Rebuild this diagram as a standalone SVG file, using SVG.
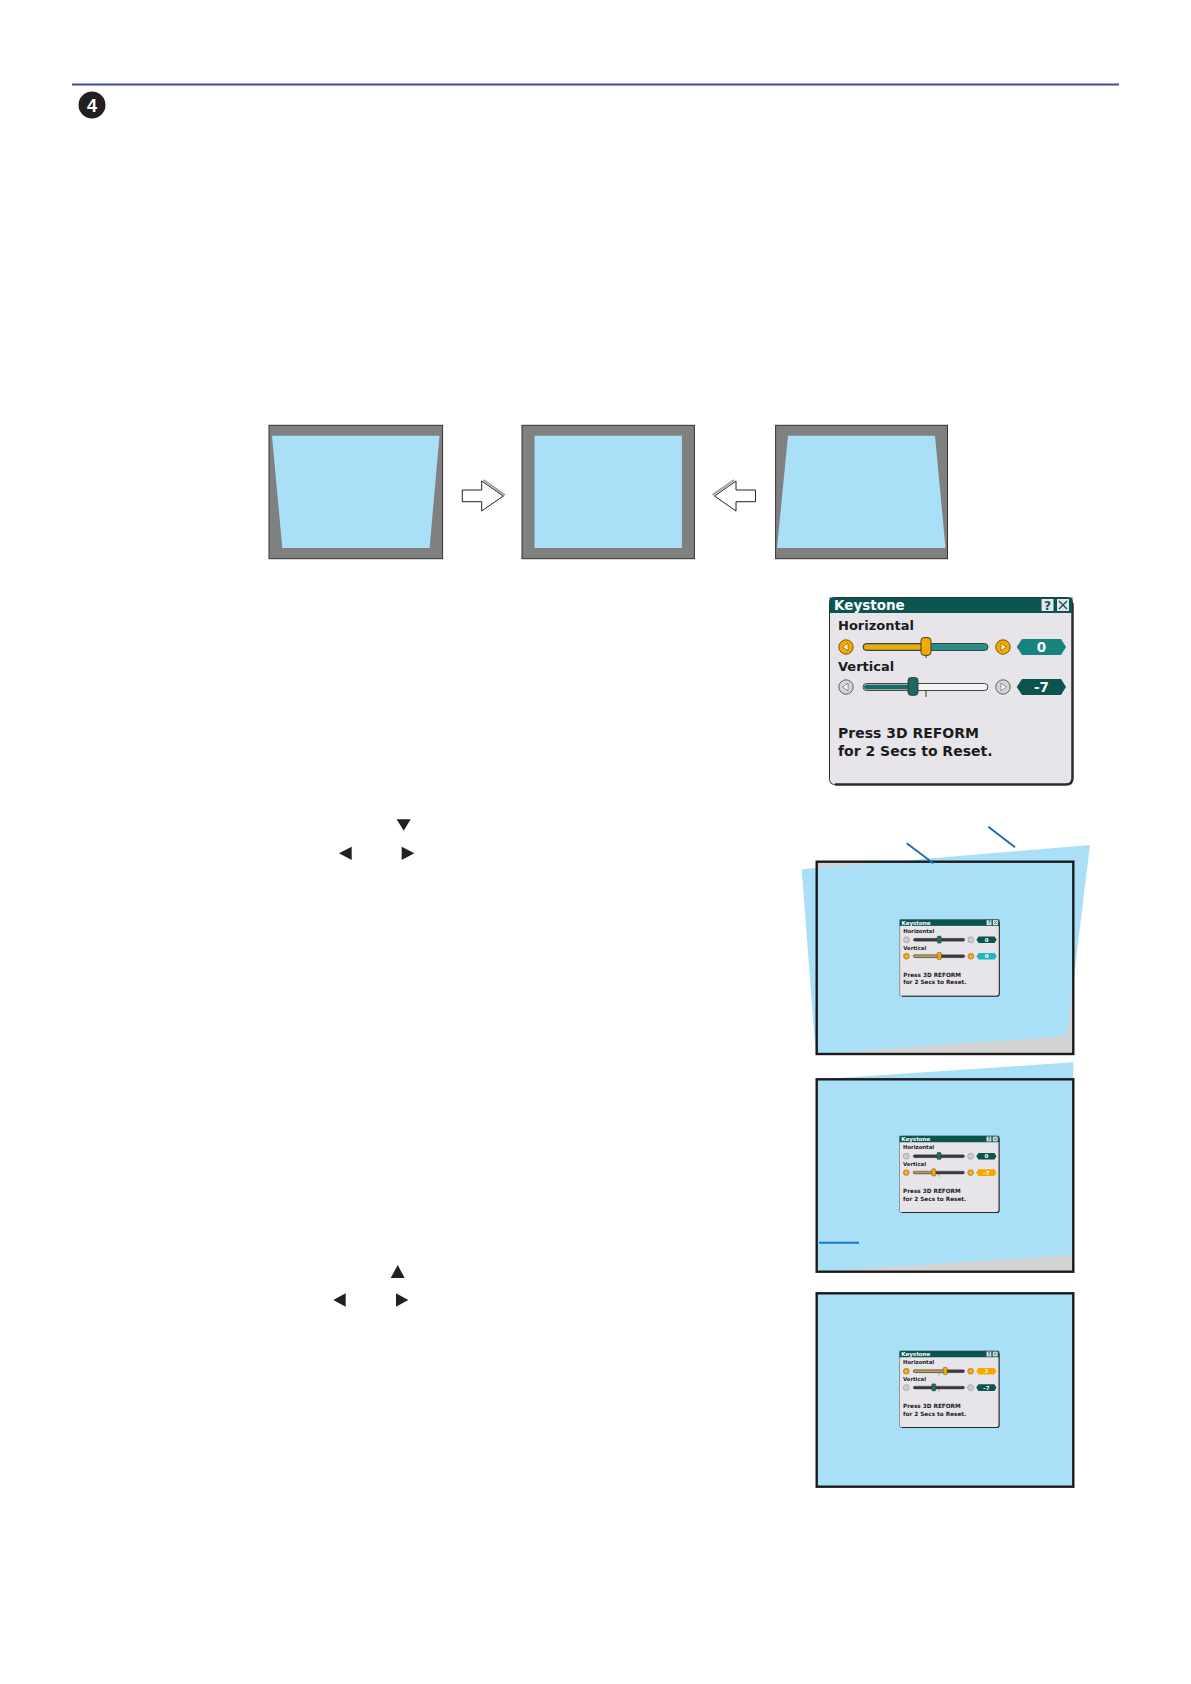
<svg xmlns="http://www.w3.org/2000/svg" xmlns:xlink="http://www.w3.org/1999/xlink" width="1191" height="1684" viewBox="0 0 1191 1684">
<style>
.dt{font-family:"DejaVu Sans",Verdana,sans-serif;font-weight:bold;fill:#1c1c1c}
.val{font-family:"DejaVu Sans",Verdana,sans-serif;font-weight:bold;font-size:13.5px;fill:#ffffff;text-anchor:middle}
.trk{stroke:#333;stroke-width:0.9}
.knob{stroke:#333;stroke-width:0.9}
.tick{stroke:#333;stroke-width:1}
.scr{fill:#808080;stroke:#333;stroke-width:1}
.blue{fill:#aadff8}
.tri{fill:#231f20}
.frame{fill:none;stroke:#1a1a1a;stroke-width:2.4}
.arrow{fill:#ffffff;stroke:#222;stroke-width:1}
.ashadow{fill:none;stroke:#a0a0a0;stroke-width:2}
.callout{stroke:#1c6bb5;stroke-width:2;fill:none}
</style>
<defs>
  <g id="bLo">
    <circle r="7.2" fill="#f5a800" stroke="#6e4a00" stroke-width="0.9"/>
    <path d="M-3.5,0 L2,-3.8 L2,3.8 Z" fill="#fff3c8" stroke="#6e4a00" stroke-width="0.6"/>
  </g>
  <g id="bRo">
    <circle r="7.2" fill="#f5a800" stroke="#6e4a00" stroke-width="0.9"/>
    <path d="M3.5,0 L-2,-3.8 L-2,3.8 Z" fill="#fff3c8" stroke="#6e4a00" stroke-width="0.6"/>
  </g>
  <g id="bLg">
    <circle r="7.2" fill="#d4d4d4" stroke="#555" stroke-width="0.9"/>
    <path d="M-3.5,0 L2,-3.8 L2,3.8 Z" fill="#ffffff" stroke="#555" stroke-width="0.6"/>
  </g>
  <g id="bRg">
    <circle r="7.2" fill="#d4d4d4" stroke="#555" stroke-width="0.9"/>
    <path d="M3.5,0 L-2,-3.8 L-2,3.8 Z" fill="#ffffff" stroke="#555" stroke-width="0.6"/>
  </g>
  <polygon id="hex" points="187.7,0 193,-8 232,-8 237,0 232,8 193,8"/>
  <g id="dlgBase">
    <rect x="0.5" y="0.5" width="243" height="187" rx="5" fill="#e7e5e9" stroke="#2b2b2b" stroke-width="1"/>
    <path d="M243.5,6 V181 Q243.5,187.5 237,187.5 H6" fill="none" stroke="#2b2b2b" stroke-width="2.5"/>
    <rect x="0.5" y="0.5" width="243" height="15.5" fill="#0b5450"/>
    <text class="dt" x="5" y="13" font-size="13.5" style="fill:#ffffff">Keystone</text>
    <rect x="212" y="1.5" width="13" height="13" fill="#e7e5e9" stroke="#0b5450" stroke-width="1"/>
    <text class="dt" x="218.5" y="12.5" font-size="12" text-anchor="middle" style="fill:#0b5450">?</text>
    <rect x="227.5" y="1.5" width="13" height="13" fill="#e7e5e9" stroke="#0b5450" stroke-width="1"/>
    <path d="M230,4 L238,12 M238,4 L230,12" stroke="#0b5450" stroke-width="1.4"/>
    <text class="dt" x="9" y="33" font-size="13">Horizontal</text>
    <text class="dt" x="9" y="74" font-size="13">Vertical</text>
    <text class="dt" x="9" y="141" font-size="14">Press 3D REFORM</text>
    <text class="dt" x="9" y="159" font-size="14">for 2 Secs to Reset.</text>
  </g>
</defs>

<rect x="0" y="0" width="1191" height="1684" fill="#ffffff"/>

<g id="header">
  <line x1="72" y1="84.5" x2="1119" y2="84.5" stroke="#4349a0" stroke-width="2"/>
  <circle cx="92" cy="105" r="13.5" fill="#231f20"/>
  <text x="92" y="111.5" font-family="'Liberation Sans',Arial,sans-serif" font-weight="bold" font-size="18" fill="#ffffff" text-anchor="middle">4</text>
</g>

<g id="screen-left">
  <rect class="scr" x="269" y="425.3" width="173.6" height="133.4"/>
  <polygon class="blue" points="272,435.7 439.5,435.7 429.6,548 282.3,548"/>
</g>
<g id="screen-center">
  <rect class="scr" x="522" y="425.3" width="172.4" height="133.4"/>
  <rect class="blue" x="534.5" y="435.7" width="147.4" height="112.3"/>
</g>
<g id="screen-right">
  <rect class="scr" x="775.6" y="425.3" width="171.9" height="133.4"/>
  <polygon class="blue" points="788,435.7 935,435.7 945.5,548 777,548"/>
</g>

<g id="connectors">
  <g id="arrow-right">
    <path class="ashadow" d="M483.5,480 L505,495"/>
    <path class="arrow" d="M462.3,490 H481.7 V481 L503.3,496 L481.7,511 V501.7 H462.3 Z"/>
  </g>
  <g id="arrow-left">
    <path class="ashadow" d="M734,480 L712.5,495"/>
    <path class="arrow" d="M755.5,490 H736 V481 L714.5,496 L736,511 V501.7 H755.5 Z"/>
  </g>
</g>

<g id="dialog-main" transform="translate(829,597)">
  <use href="#dlgBase"/>
  <g transform="translate(0,50)">
    <use href="#bLo" x="17"/>
    <rect class="trk" x="34" y="-3.5" width="125" height="7" rx="3.5" fill="#2a8e88"/>
    <rect x="35" y="-2.5" width="60" height="5" rx="2.5" fill="#f5a800"/>
    <line class="tick" x1="97" y1="8" x2="97" y2="11"/>
    <rect class="knob" x="92" y="-9.4" width="10" height="17.7" rx="3" fill="#f5a800"/>
    <use href="#bRo" x="174"/>
    <use href="#hex" fill="#17837f"/>
    <text class="val" x="212.5" y="5">0</text>
  </g>
  <g transform="translate(0,90)">
    <use href="#bLg" x="17"/>
    <rect class="trk" x="34" y="-3.5" width="125" height="7" rx="3.5" fill="#f4f4f4"/>
    <rect x="35" y="-2.5" width="50" height="5" rx="2.5" fill="#1d6964"/>
    <line class="tick" x1="97" y1="3.5" x2="97" y2="10"/>
    <rect class="knob" x="79" y="-9.4" width="10" height="17.7" rx="3" fill="#1d6964"/>
    <use href="#bRg" x="174"/>
    <use href="#hex" fill="#0b5450"/>
    <text class="val" x="212.5" y="5">-7</text>
  </g>
</g>

<g id="arrow-keys-1">
  <polygon class="tri" points="396.7,819.3 410.7,819.3 403.7,830.7"/>
  <polygon class="tri" points="339,853.3 351.7,846.7 351.7,860"/>
  <polygon class="tri" points="414.3,853.3 401.7,846.7 401.7,860"/>
</g>
<g id="arrow-keys-2">
  <polygon class="tri" points="390.7,1278 404.7,1278 397.7,1265"/>
  <polygon class="tri" points="333.3,1300 345.7,1293.3 345.7,1306.7"/>
  <polygon class="tri" points="408.3,1300 396,1293.3 396,1306.7"/>
</g>

<g id="screen-a">
  <rect x="816.7" y="861.7" width="256.6" height="192.3" fill="#d3d3d3"/>
  <polygon class="blue" points="801.7,869.3 1090,845 1066.7,1036 815.7,1054"/>
  <rect class="frame" x="816.7" y="861.7" width="256.6" height="192.3"/>
  <line class="callout" x1="906.7" y1="843.3" x2="933.3" y2="863.3"/>
  <line class="callout" x1="988.3" y1="826.7" x2="1015" y2="847.3"/>
  <g id="dialog-a" transform="translate(899.5,919.3) scale(0.41)">
    <use href="#dlgBase"/>
    <g transform="translate(0,50)">
      <use href="#bLg" x="17"/>
      <rect class="trk" x="34" y="-3.5" width="125" height="7" rx="3.5" fill="#3a3a3a"/>
      <rect class="knob" x="92" y="-9.4" width="10" height="17.7" rx="3" fill="#1d6964"/>
      <use href="#bRg" x="174"/>
      <use href="#hex" fill="#0b5450"/>
      <text class="val" x="212.5" y="5">0</text>
    </g>
    <g transform="translate(0,90)">
      <use href="#bLo" x="17"/>
      <rect class="trk" x="34" y="-3.5" width="125" height="7" rx="3.5" fill="#3a3a3a"/>
      <rect x="35" y="-2.5" width="60" height="5" rx="2.5" fill="#c8a050"/>
      <rect class="knob" x="92" y="-9.4" width="10" height="17.7" rx="3" fill="#f5a800"/>
      <use href="#bRo" x="174"/>
      <use href="#hex" fill="#22b4c0"/>
      <text class="val" x="212.5" y="5">0</text>
    </g>
  </g>
</g>

<g id="screen-b">
  <rect x="816.7" y="1079.3" width="256.6" height="192.4" fill="#d3d3d3"/>
  <polygon class="blue" points="816.7,1079.5 1073.3,1062.3 1073.3,1255 816.7,1271.7"/>
  <rect class="frame" x="816.7" y="1079.3" width="256.6" height="192.4"/>
  <line x1="819" y1="1242.7" x2="859" y2="1242.7" stroke="#1877c9" stroke-width="2"/>
  <g id="dialog-b" transform="translate(899.3,1135.7) scale(0.41)">
    <use href="#dlgBase"/>
    <g transform="translate(0,50)">
      <use href="#bLg" x="17"/>
      <rect class="trk" x="34" y="-3.5" width="125" height="7" rx="3.5" fill="#3a3a3a"/>
      <rect class="knob" x="92" y="-9.4" width="10" height="17.7" rx="3" fill="#1d6964"/>
      <use href="#bRg" x="174"/>
      <use href="#hex" fill="#0b5450"/>
      <text class="val" x="212.5" y="5">0</text>
    </g>
    <g transform="translate(0,90)">
      <use href="#bLo" x="17"/>
      <rect class="trk" x="34" y="-3.5" width="125" height="7" rx="3.5" fill="#3a3a3a"/>
      <rect x="35" y="-2.5" width="50" height="5" rx="2.5" fill="#c8a050"/>
      <line class="tick" x1="97" y1="3.5" x2="97" y2="10"/>
      <rect class="knob" x="79" y="-9.4" width="10" height="17.7" rx="3" fill="#f5a800"/>
      <use href="#bRo" x="174"/>
      <use href="#hex" fill="#f5a800"/>
      <text class="val" x="212.5" y="5">-7</text>
    </g>
  </g>
</g>

<g id="screen-c">
  <rect class="blue" x="816.7" y="1293.3" width="256.6" height="193.4"/>
  <rect class="frame" x="816.7" y="1293.3" width="256.6" height="193.4"/>
  <g id="dialog-c" transform="translate(899.3,1350.7) scale(0.41)">
    <use href="#dlgBase"/>
    <g transform="translate(0,50)">
      <use href="#bLo" x="17"/>
      <rect class="trk" x="34" y="-3.5" width="125" height="7" rx="3.5" fill="#3a3a3a"/>
      <rect x="35" y="-2.5" width="75" height="5" rx="2.5" fill="#c8a050"/>
      <line class="tick" x1="97" y1="3.5" x2="97" y2="10"/>
      <rect class="knob" x="107" y="-9.4" width="10" height="17.7" rx="3" fill="#f5a800"/>
      <use href="#bRo" x="174"/>
      <use href="#hex" fill="#f5a800"/>
      <text class="val" x="212.5" y="5" style="fill:#ffe9b0">3</text>
    </g>
    <g transform="translate(0,90)">
      <use href="#bLg" x="17"/>
      <rect class="trk" x="34" y="-3.5" width="125" height="7" rx="3.5" fill="#3a3a3a"/>
      <line class="tick" x1="97" y1="3.5" x2="97" y2="10"/>
      <rect class="knob" x="79" y="-9.4" width="10" height="17.7" rx="3" fill="#1d6964"/>
      <use href="#bRg" x="174"/>
      <use href="#hex" fill="#0b5450"/>
      <text class="val" x="212.5" y="5">-7</text>
    </g>
  </g>
</g>
</svg>
